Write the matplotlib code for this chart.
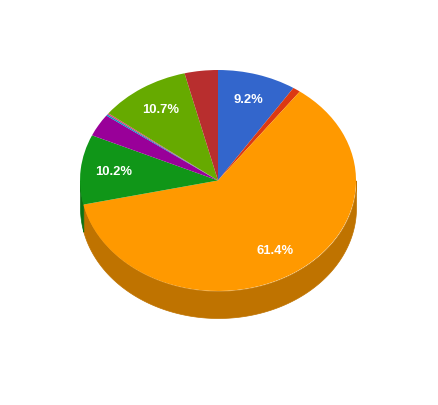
import numpy as np
import matplotlib
matplotlib.use('Agg')
import matplotlib.pyplot as plt
from matplotlib.colors import to_rgb

# Porcentajes de cada sector, en sentido horario desde arriba
values = [9.2, 0.9, 61.4, 10.2, 3.3, 0.2, 0.2, 10.7, 3.9]
colors = ['#3366cc', '#dc3912', '#ff9900', '#109618', '#990099',
          '#0099c6', '#dd4477', '#66aa00', '#b82e2e']

# Geometria de la elipse en pixeles
W, H = 438, 405
CX, CY = 218, 180.5
RX, RY = 138, 110.5
DEPTH = 27 / RY


def pct_label(p):
    # Solo se rotulan los sectores grandes
    return f'{p:.1f}%' if p >= 5 else ''


def darker(color, factor=0.75):
    return tuple(c * factor for c in to_rgb(color))


fig = plt.figure(figsize=(W / 100, H / 100), dpi=100)
ax = fig.add_axes([0, 0, 1, 1])

# Pared lateral: solo la mitad delantera de la elipse
edges = np.cumsum([0] + values) / sum(values) * 2 * np.pi
for start, end, color in zip(edges[:-1], edges[1:], colors):
    lo, hi = max(start, np.pi / 2), min(end, 3 * np.pi / 2)
    if lo >= hi:
        continue
    t = np.linspace(lo, hi, 200)
    ax.fill_between(np.sin(t), np.cos(t), np.cos(t) - DEPTH,
                    color=darker(color), linewidth=0.5, zorder=1)

# Cara superior
wedges, texts, autotexts = ax.pie(values, colors=colors, startangle=90,
                                  counterclock=False, autopct=pct_label,
                                  pctdistance=0.76, radius=1,
                                  wedgeprops={'linewidth': 0, 'zorder': 2})
for txt in autotexts:
    txt.set(color='white', fontsize=9.4, fontweight='bold',
            family='Liberation Sans', zorder=3)

# La elipse sale de quitar el aspecto igual que pone pie
ax.set_aspect('auto')
ax.set_xlim(-CX / RX, (W - CX) / RX)
ax.set_ylim((CY - H) / RY, CY / RY)
ax.axis('off')

fig.savefig('out.png', dpi=100, facecolor='white')
